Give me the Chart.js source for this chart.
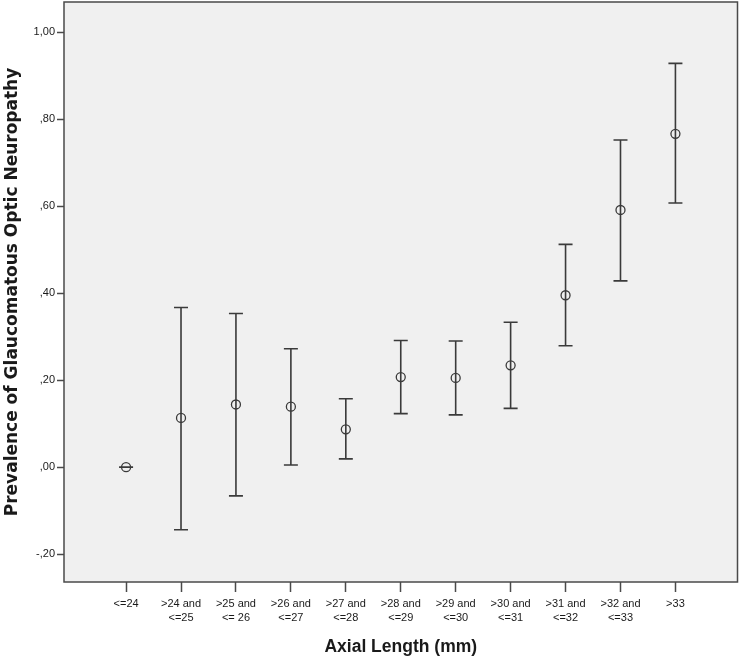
<!DOCTYPE html>
<html>
<head>
<meta charset="utf-8">
<title>Prevalence of GON by axial length</title>
<script src="https://cdn.jsdelivr.net/npm/chart.js@4.4.1/dist/chart.umd.min.js"></script>
<style>
  html, body { margin: 0; padding: 0; background: #ffffff; }
  #wrap { width: 740px; height: 662px; }
</style>
</head>
<body>
<div id="wrap"><canvas id="chart" width="740" height="662"></canvas></div>
<script>
// Axial length groups (x axis)
const categories = [
  ['<=24'],
  ['>24 and', '<=25'],
  ['>25 and', '<= 26'],
  ['>26 and', '<=27'],
  ['>27 and', '<=28'],
  ['>28 and', '<=29'],
  ['>29 and', '<=30'],
  ['>30 and', '<=31'],
  ['>31 and', '<=32'],
  ['>32 and', '<=33'],
  ['>33']
];

// prevalence and 95% CI
const means = [0.000, 0.113, 0.144, 0.139, 0.087, 0.207, 0.205, 0.234, 0.395, 0.591, 0.766];
const lower = [0.000, -0.144, -0.066, 0.005, 0.019, 0.123, 0.120, 0.135, 0.279, 0.428, 0.607];
const upper = [0.000, 0.367, 0.353, 0.272, 0.157, 0.291, 0.290, 0.333, 0.512, 0.752, 0.928];

const yTicks = [-0.2, 0, 0.2, 0.4, 0.6, 0.8, 1.0];

const INK = '#3a3a3a';
const SANS = "'Liberation Sans', Arial, sans-serif";

const fmtComma = (v) => {
  let s = Math.abs(v).toFixed(2).replace('.', ',');
  if (s.startsWith('0')) s = s.slice(1);
  return (v < -1e-9 ? '-' : '') + s;
};

// light grey plot panel with a frame
const panelPlugin = {
  id: 'panel',
  beforeDraw(chart) {
    const { ctx, chartArea: a } = chart;
    ctx.save();
    ctx.fillStyle = '#f0f0f0';
    ctx.fillRect(a.left, a.top, a.right - a.left, a.bottom - a.top);
    ctx.restore();
  },
  afterDraw(chart) {
    const { ctx, chartArea: a } = chart;
    ctx.save();
    ctx.strokeStyle = '#4a4a4a';
    ctx.lineWidth = 1.5;
    ctx.strokeRect(a.left, a.top, a.right - a.left, a.bottom - a.top);
    ctx.restore();
  }
};

// whiskers with caps
const errorBarPlugin = {
  id: 'errorBars',
  beforeDatasetsDraw(chart) {
    const { ctx, scales: { x, y } } = chart;
    const cap = 7;
    ctx.save();
    ctx.strokeStyle = INK;
    ctx.lineWidth = 1.6;
    means.forEach((m, i) => {
      const px = x.getPixelForValue(i);
      const yLo = y.getPixelForValue(lower[i]);
      const yHi = y.getPixelForValue(upper[i]);
      ctx.beginPath();
      ctx.moveTo(px, yLo);
      ctx.lineTo(px, yHi);
      ctx.moveTo(px - cap, yLo);
      ctx.lineTo(px + cap, yLo);
      ctx.moveTo(px - cap, yHi);
      ctx.lineTo(px + cap, yHi);
      ctx.stroke();
    });
    ctx.restore();
  }
};

const ctx = document.getElementById('chart').getContext('2d');

new Chart(ctx, {
  type: 'scatter',
  data: {
    datasets: [{
      data: means.map((m, i) => ({ x: i, y: m })),
      pointStyle: 'circle',
      pointRadius: 4.5,
      pointHoverRadius: 4.5,
      borderColor: INK,
      backgroundColor: 'rgba(0,0,0,0)',
      borderWidth: 1.3
    }]
  },
  options: {
    responsive: false,
    animation: false,
    devicePixelRatio: 1,
    layout: { autoPadding: false, padding: { top: 2, right: 2.5, bottom: 0, left: 0 } },
    plugins: {
      legend: { display: false },
      tooltip: { enabled: false }
    },
    scales: {
      x: {
        type: 'linear',
        min: -1.13,
        max: 11.13,
        afterBuildTicks: (scale) => {
          scale.ticks = categories.map((c, i) => ({ value: i }));
        },
        afterFit: (scale) => {
          scale.height = 80;
          scale.paddingLeft = 0;
          scale.paddingRight = 0;
        },
        border: { display: false },
        grid: {
          drawOnChartArea: false,
          drawTicks: true,
          tickLength: 10,
          tickWidth: 1.5,
          tickColor: '#4a4a4a'
        },
        ticks: {
          autoSkip: false,
          maxRotation: 0,
          padding: 5,
          color: '#1a1a1a',
          font: { family: SANS, size: 11, lineHeight: 1.27 },
          callback: (v) => categories[v]
        },
        title: {
          display: true,
          text: 'Axial Length (mm)',
          color: '#1a1a1a',
          padding: { top: 0, bottom: 4 },
          font: { family: SANS, size: 17.5, weight: 'bold' }
        }
      },
      y: {
        min: -0.264,
        max: 1.069,
        afterBuildTicks: (scale) => {
          scale.ticks = yTicks.map(v => ({ value: v }));
        },
        afterFit: (scale) => {
          scale.width = 64;
          scale.paddingTop = 0;
          scale.paddingBottom = 0;
        },
        border: { display: false },
        grid: {
          drawOnChartArea: false,
          drawTicks: true,
          tickLength: 7,
          tickWidth: 1.5,
          tickColor: '#4a4a4a'
        },
        ticks: {
          padding: 2,
          color: '#1a1a1a',
          font: { family: SANS, size: 11 },
          callback: (v) => fmtComma(v)
        },
        title: {
          display: true,
          text: 'Prevalence of Glaucomatous Optic Neuropathy',
          color: '#1a1a1a',
          padding: { top: 2.5, bottom: 0 },
          font: { family: "'DejaVu Sans', sans-serif", size: 17, weight: 'bold' }
        }
      }
    }
  },
  plugins: [panelPlugin, errorBarPlugin]
});
</script>
</body>
</html>
